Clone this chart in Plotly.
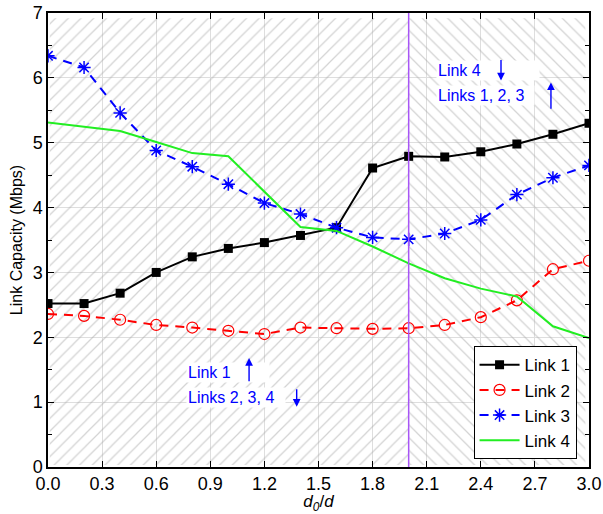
import plotly.graph_objects as go

# Normalised distance d0/d
ratio = [0.0, 0.2, 0.4, 0.6, 0.8, 1.0, 1.2, 1.4, 1.6, 1.8, 2.0, 2.2, 2.4, 2.6, 2.8, 3.0]

# Link capacities (Mbps)
link1 = [2.52, 2.52, 2.68, 3.00, 3.24, 3.37, 3.46, 3.57, 3.69, 4.61, 4.79, 4.78, 4.86, 4.98, 5.13, 5.30]
link2 = [2.36, 2.33, 2.27, 2.19, 2.15, 2.10, 2.05, 2.15, 2.14, 2.13, 2.14, 2.19, 2.31, 2.57, 3.05, 3.18]
link3 = [6.34, 6.16, 5.46, 4.88, 4.63, 4.36, 4.07, 3.90, 3.69, 3.54, 3.51, 3.60, 3.81, 4.20, 4.46, 4.65]
link4 = [5.31, 5.24, 5.18, 5.01, 4.84, 4.79, 4.25, 3.70, 3.64, 3.40, 3.14, 2.91, 2.75, 2.63, 2.17, 1.99]

x_ticks = [0.0, 0.3, 0.6, 0.9, 1.2, 1.5, 1.8, 2.1, 2.4, 2.7, 3.0]
x_tick_text = ["0.0", "0.3", "0.6", "0.9", "1.2", "1.5", "1.8", "2.1", "2.4", "2.7", "3.0"]
y_ticks = [0, 1, 2, 3, 4, 5, 6, 7]

# Regime boundary
split = 2.0
x_min, x_max = 0.0, 3.0
y_min, y_max = 0.0, 7.0

FONT = "Liberation Sans, Arial, sans-serif"
HATCH = "#a8a8a8"

fig = go.Figure()

# Hatched backgrounds for the two regimes
def hatch(x0, x1, shape):
    fig.add_trace(go.Bar(
        x=[(x0 + x1) / 2], y=[(y_max - 0.08) - (y_min + 0.03)], base=[y_min + 0.03],
        width=[x1 - x0],
        marker=dict(color="rgba(0,0,0,0)", line=dict(width=0),
                    pattern=dict(shape=shape, fgcolor=HATCH, bgcolor="rgba(0,0,0,0)",
                                 size=9, solidity=0.14, fillmode="overlay")),
        showlegend=False, hoverinfo="skip",
    ))

hatch(x_min + 0.01, split, "/")
hatch(split, x_max - 0.02, "\\")

fig.add_trace(go.Scatter(
    x=ratio, y=link1, name="Link 1", mode="lines+markers",
    line=dict(color="black", width=2),
    marker=dict(symbol="square", size=9, color="black"),
))
fig.add_trace(go.Scatter(
    x=ratio, y=link2, name="Link 2", mode="lines+markers",
    line=dict(color="#ff0000", width=2, dash="9px,7px"),
    marker=dict(symbol="circle-open", size=11, color="#ff0000", line=dict(width=1.2)),
))
fig.add_trace(go.Scatter(
    x=ratio, y=link3, name="Link 3", mode="lines+markers",
    line=dict(color="#0000ff", width=2, dash="9px,7px"),
    marker=dict(symbol="asterisk-open", size=11, color="#0000ff", line=dict(width=1.5, color="#0000ff")),
))
fig.add_trace(go.Scatter(
    x=ratio, y=link4, name="Link 4", mode="lines",
    line=dict(color="#22ee22", width=2),
))

# Regime boundary line
fig.add_shape(type="line", x0=split, x1=split, y0=0, y1=1, yref="paper",
              line=dict(color="#a855f7", width=1.5), layer="above")

blue = "#0000ff"
ann_font = dict(family=FONT, size=16, color=blue)
labels = [
    (0.765, 1.45, "Link 1", 80),
    (0.765, 1.07, "Links 2, 3, 4", 96),
    (2.152, 6.12, "Link 4", 100),
    (2.152, 5.73, "Links 1, 2, 3", 95),
]
for lx, ly, txt, w in labels:
    fig.add_annotation(x=lx, y=ly, text=txt, showarrow=False, xanchor="left", yanchor="middle",
                       align="left", width=w, bgcolor="white", borderpad=1, font=ann_font)

arrows = [
    (1.115, 1.30, 1.68),
    (1.379, 1.22, 0.93),
    (2.512, 6.30, 5.96),
    (2.789, 5.50, 5.93),
]
for axx, tail, head in arrows:
    fig.add_annotation(x=axx, y=head, ax=axx, ay=tail, xref="x", yref="y", axref="x", ayref="y",
                       text="", showarrow=True, arrowhead=2, arrowsize=1.1, arrowwidth=1.4,
                       arrowcolor=blue)

fig.update_layout(
    width=603, height=514,
    margin=dict(l=48, r=14, t=13, b=47),
    paper_bgcolor="white", plot_bgcolor="white",
    barmode="overlay",
    font=dict(family=FONT, size=16, color="black"),
    legend=dict(x=0.977, y=0.017, xanchor="right", yanchor="bottom",
                bgcolor="white", bordercolor="black", borderwidth=1,
                font=dict(family=FONT, size=17), itemwidth=40, tracegroupgap=0),
    xaxis=dict(
        range=[x_min, x_max], tickvals=x_ticks, ticktext=x_tick_text, automargin=False,
        showline=True, linecolor="black", linewidth=1.5, mirror="ticks",
        ticks="inside", ticklen=6, tickcolor="black",
        showgrid=True, gridcolor="#dedede", gridwidth=1.2, zeroline=False,
        tickfont=dict(size=18),
        title=dict(text="<i>d</i><sub><i>0</i></sub>/<i>d</i>", font=dict(size=17), standoff=5),
    ),
    yaxis=dict(
        range=[y_min, y_max], tickvals=y_ticks, automargin=False,
        showline=True, linecolor="black", linewidth=1.5, mirror="ticks",
        ticks="inside", ticklen=6, tickcolor="black",
        minor=dict(dtick=0.5, ticks="inside", ticklen=4, tickcolor="black", showgrid=False),
        showgrid=True, gridcolor="#dedede", gridwidth=1.2, zeroline=False,
        tickfont=dict(size=18),
        title=dict(text="Link Capacity (Mbps)", font=dict(size=16), standoff=6),
    ),
)

fig.write_html("out.html")
